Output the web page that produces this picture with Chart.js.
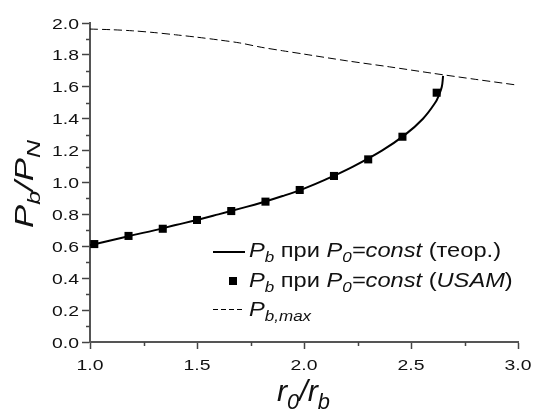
<!DOCTYPE html>
<html>
<head>
<meta charset="utf-8">
<script src="https://cdn.jsdelivr.net/npm/chart.js@4.4.1/dist/chart.umd.min.js"></script>
<style>
  body { margin: 0; background: #fff; }
  #wrap { width: 536px; height: 410px; position: relative; }
</style>
</head>
<body>
<div id="wrap"><canvas id="chart"></canvas></div>
<script>
// P_b at P_0 = const, theory (solid line)
const theoryX = [1.00, 1.10, 1.20, 1.30, 1.40, 1.50, 1.60, 1.70, 1.80, 1.90, 2.00, 2.10, 2.229, 2.364, 2.473, 2.556, 2.613, 2.631, 2.644, 2.650];
const theoryY = [0.607, 0.638, 0.670, 0.700, 0.733, 0.765, 0.800, 0.836, 0.873, 0.915, 0.962, 1.018, 1.100, 1.200, 1.300, 1.400, 1.500, 1.550, 1.600, 1.668];
// P_b at P_0 = const, USAM (squares)
const usamX = [1.02, 1.18, 1.34, 1.50, 1.66, 1.82, 1.98, 2.14, 2.30, 2.46, 2.62];
const usamY = [0.614, 0.665, 0.710, 0.765, 0.821, 0.880, 0.953, 1.041, 1.145, 1.287, 1.563];
// P_b,max (dashed)
const pmaxX = [1.0, 1.1, 1.2, 1.3, 1.4, 1.5, 1.6, 1.7, 1.8, 1.9, 2.0, 2.2, 2.4, 2.6, 2.8, 3.0];
const pmaxY = [1.962, 1.958, 1.951, 1.940, 1.926, 1.911, 1.894, 1.875, 1.848, 1.826, 1.805, 1.763, 1.725, 1.685, 1.647, 1.610];
// axis ticks
const xTicks = [1.0, 1.5, 2.0, 2.5, 3.0];
const yTicks = [0.0, 0.2, 0.4, 0.6, 0.8, 1.0, 1.2, 1.4, 1.6, 1.8, 2.0];
const xMinor = [1.25, 1.75, 2.25, 2.75];
const yMinor = [0.1, 0.3, 0.5, 0.7, 0.9, 1.1, 1.3, 1.5, 1.7, 1.9];

const FONT = '"Liberation Sans", Arial, sans-serif';
const toPts = (xs, ys) => xs.map((x, i) => ({ x: x, y: ys[i] }));

// text runs: [text, style]  n = normal, i = italic, s = italic subscript
function fontFor(style, size) {
  const fs = style === 's' ? size * 0.72 : size;
  return (style === 'n' ? '' : 'italic ') + fs + 'px ' + FONT;
}
function runsWidth(ctx, runs, size) {
  let w = 0;
  for (const [t, st] of runs) { ctx.font = fontFor(st, size); w += ctx.measureText(t).width; }
  return w;
}
function drawRuns(ctx, runs, x, y, size, sx) {
  ctx.save();
  ctx.translate(x, y);
  ctx.scale(sx, 1);
  let cx = 0;
  for (const [t, st] of runs) {
    ctx.font = fontFor(st, size);
    ctx.fillText(t, cx, st === 's' ? size * 0.26 : 0);
    cx += ctx.measureText(t).width;
  }
  ctx.restore();
}

const row1 = [['P', 'i'], ['b', 's'], [' при ', 'n'], ['P', 'i'], ['0', 's'], ['=const', 'i'], [' (теор.)', 'n']];
const row2 = [['P', 'i'], ['b', 's'], [' при ', 'n'], ['P', 'i'], ['0', 's'], ['=const', 'i'], [' (', 'n'], ['USAM', 'i'], [')', 'n']];
const row3 = [['P', 'i'], ['b,max', 's']];
const yTitle = [['P', 'i'], ['b', 's'], ['/', 'i'], ['P', 'i'], ['N', 's']];
const xTitle = [['r', 'i'], ['0', 's'], ['/', 'i'], ['r', 'i'], ['b', 's']];

const decor = {
  id: 'decor',
  afterDraw(chart) {
    const ctx = chart.ctx;
    const xs = chart.scales.x, ys = chart.scales.y;
    const area = chart.chartArea;
    ctx.save();
    // minor ticks
    ctx.strokeStyle = '#444';
    ctx.lineWidth = 1.5;
    ctx.beginPath();
    xMinor.forEach(v => {
      const px = Math.round(xs.getPixelForValue(v)) + 0.5;
      ctx.moveTo(px, area.bottom); ctx.lineTo(px, area.bottom + 4);
    });
    yMinor.forEach(v => {
      const py = Math.round(ys.getPixelForValue(v)) + 0.5;
      ctx.moveTo(area.left, py); ctx.lineTo(area.left - 4, py);
    });
    ctx.stroke();

    // tick labels
    ctx.fillStyle = '#111';
    ctx.textBaseline = 'alphabetic';
    const tf = 15.5, tsx = 1.25;
    xTicks.forEach(v => {
      const s = v.toFixed(1);
      ctx.font = tf + 'px ' + FONT;
      const w = ctx.measureText(s).width * tsx;
      drawRuns(ctx, [[s, 'n']], xs.getPixelForValue(v) - w / 2, area.bottom + 28, tf, tsx);
    });
    yTicks.forEach(v => {
      const s = v.toFixed(1);
      ctx.font = tf + 'px ' + FONT;
      const w = ctx.measureText(s).width * tsx;
      drawRuns(ctx, [[s, 'n']], area.left - 11 - w, ys.getPixelForValue(v) + 5.5, tf, tsx);
    });

    // axis titles
    const yf = 25;
    const ysx = 88 / runsWidth(ctx, yTitle, yf);
    ctx.save();
    ctx.translate(33, 228);
    ctx.rotate(-Math.PI / 2);
    drawRuns(ctx, yTitle, 0, 0, yf, ysx);
    ctx.restore();
    const xf = 30;
    const xsx = 53 / runsWidth(ctx, xTitle, xf);
    drawRuns(ctx, xTitle, 277, 401, xf, xsx);

    // legend
    const lf = 20;
    const lsx = 252 / runsWidth(ctx, row1, lf);
    const lx = 249;
    ctx.strokeStyle = '#000';
    ctx.lineWidth = 2;
    ctx.beginPath(); ctx.moveTo(213, 252); ctx.lineTo(245, 252); ctx.stroke();
    drawRuns(ctx, row1, lx, 257, lf, lsx);
    ctx.fillStyle = '#000';
    ctx.fillRect(229, 277, 8, 8);
    ctx.fillStyle = '#111';
    drawRuns(ctx, row2, lx, 287, lf, lsx);
    ctx.lineWidth = 1;
    ctx.setLineDash([5, 3]);
    ctx.beginPath(); ctx.moveTo(213, 309.5); ctx.lineTo(245, 309.5); ctx.stroke();
    ctx.setLineDash([]);
    drawRuns(ctx, row3, lx, 316, lf, lsx);
    ctx.restore();
  }
};

new Chart(document.getElementById('chart'), {
  type: 'scatter',
  data: {
    datasets: [
      {
        label: 'USAM',
        data: toPts(usamX, usamY),
        pointStyle: 'rect',
        pointRadius: 5.7,
        pointBackgroundColor: '#000',
        pointBorderWidth: 0,
        showLine: false
      },
      {
        label: 'theory',
        data: toPts(theoryX, theoryY),
        showLine: true,
        borderColor: '#000',
        borderWidth: 2,
        pointRadius: 0,
        tension: 0.4
      },
      {
        label: 'Pb,max',
        data: toPts(pmaxX, pmaxY),
        showLine: true,
        borderColor: '#000',
        borderWidth: 1,
        borderDash: [8, 4],
        pointRadius: 0,
        tension: 0.3
      }
    ]
  },
  options: {
    responsive: true,
    maintainAspectRatio: false,
    animation: false,
    layout: { padding: { top: 23, right: 18, left: 0, bottom: 0 } },
    plugins: { legend: { display: false }, tooltip: { enabled: false } },
    scales: {
      x: {
        type: 'linear',
        min: 1, max: 3,
        ticks: { stepSize: 0.5, display: false },
        grid: { drawOnChartArea: false, tickLength: 7, tickColor: '#444', tickWidth: 1.5 },
        border: { color: '#555', width: 2 },
        afterFit: s => { s.height = 68; }
      },
      y: {
        min: 0, max: 2,
        ticks: { stepSize: 0.2, display: false },
        grid: { drawOnChartArea: false, tickLength: 8, tickColor: '#444', tickWidth: 1.5 },
        border: { color: '#555', width: 2 },
        afterFit: s => { s.width = 90; }
      }
    }
  },
  plugins: [decor]
});
</script>
</body>
</html>
